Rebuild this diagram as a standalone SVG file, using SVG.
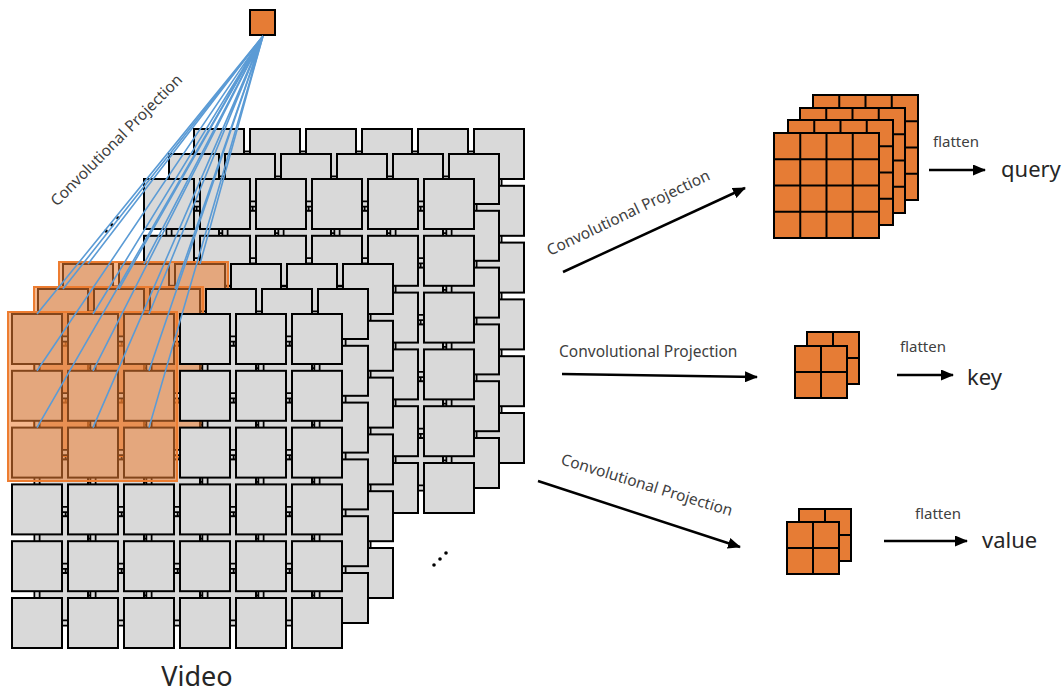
<svg xmlns="http://www.w3.org/2000/svg" xmlns:xlink="http://www.w3.org/1999/xlink" width="1064" height="693" viewBox="0 0 1064 693">
<style>
.sq{fill:#d9d9d9;stroke:#000;stroke-width:2}
.lk1{fill:none;stroke:#000;stroke-width:7}
.lk2{fill:none;stroke:#d9d9d9;stroke-width:3.5}
.ov{fill:#ed7d31;fill-opacity:0.55;stroke:#ed7d31;stroke-width:2}
.oc{fill:#e67c35;stroke:#000;stroke-width:2}
.gl{fill:none;stroke:#000;stroke-width:2}
.bl{stroke:#5b9bd5;stroke-width:1.6;fill:none}
.ar{stroke:#000;stroke-width:2.5;fill:none;marker-end:url(#ah)}
.t{font-family:"Noto Sans","Open Sans",sans-serif;fill:#404040}
.dot{fill:#000}
</style>
<defs>
<marker id="ah" markerWidth="13" markerHeight="11" refX="12" refY="5.5" orient="auto" markerUnits="userSpaceOnUse"><path d="M0,0 L13,5.5 L0,11 z" fill="#000"/></marker>
<g id="row">
<rect class="sq" x="1" y="1" width="50" height="50"/>
<rect class="sq" x="57" y="1" width="50" height="50"/>
<rect class="sq" x="113" y="1" width="50" height="50"/>
<rect class="sq" x="169" y="1" width="50" height="50"/>
<rect class="sq" x="225" y="1" width="50" height="50"/>
<rect class="sq" x="281" y="1" width="50" height="50"/>
</g>
<g id="grid">
<path class="lk1" d="M26 26H306M26 82.8H306M26 139.6H306M26 196.4H306M26 253.2H306M26 310H306M26 26V310M82 26V310M138 26V310M194 26V310M250 26V310M306 26V310"/>
<path class="lk2" d="M26 26H306M26 82.8H306M26 139.6H306M26 196.4H306M26 253.2H306M26 310H306M26 26V310M82 26V310M138 26V310M194 26V310M250 26V310M306 26V310"/>
<use xlink:href="#row" y="0"/>
<use xlink:href="#row" y="56.8"/>
<use xlink:href="#row" y="113.6"/>
<use xlink:href="#row" y="170.4"/>
<use xlink:href="#row" y="227.2"/>
<use xlink:href="#row" y="284"/>
</g>
<g id="g4">
<rect class="oc" x="0" y="0" width="105" height="105"/>
<path class="gl" d="M26.25 0V105M52.5 0V105M78.75 0V105M0 26.25H105M0 52.5H105M0 78.75H105"/>
</g>
<g id="g2">
<rect class="oc" x="0" y="0" width="52" height="52"/>
<path class="gl" d="M26 0V52M0 26H52"/>
</g>
</defs>
<rect width="1064" height="693" fill="#fff"/>

<g id="video">
<g id="layer1"><use xlink:href="#grid" x="193" y="128"/></g>
<g id="layer2"><use xlink:href="#grid" x="168" y="153"/></g>
<g id="layer3"><use xlink:href="#grid" x="143" y="178"/></g>
<g id="layer4"><use xlink:href="#grid" x="62" y="263"/><rect class="ov" x="59" y="262" width="169" height="169"/></g>
<g id="layer5"><use xlink:href="#grid" x="37" y="288"/><rect class="ov" x="34" y="287" width="169" height="169"/></g>
<g id="layer6"><use xlink:href="#grid" x="11" y="313"/><rect class="ov" x="8" y="312" width="169" height="169"/></g>
<g id="dots1"><circle class="dot" cx="106" cy="231" r="1.8"/><circle class="dot" cx="112" cy="225" r="1.8"/><circle class="dot" cx="118" cy="218" r="1.8"/></g>
<g id="dots2"><circle class="dot" cx="434" cy="565" r="1.8"/><circle class="dot" cx="440" cy="559" r="1.8"/><circle class="dot" cx="446" cy="553" r="1.8"/></g>
<text class="t" x="197" y="686" font-size="27" text-anchor="middle" style="fill:#262626">Video</text>
</g>

<g id="kernel"><rect class="oc" x="250" y="10" width="25" height="25"/></g>

<g id="query-maps">
<use xlink:href="#g4" x="813" y="95"/>
<use xlink:href="#g4" x="800" y="108"/>
<use xlink:href="#g4" x="788" y="120"/>
<use xlink:href="#g4" x="774" y="133"/>
</g>
<g id="key-maps">
<use xlink:href="#g2" x="807" y="332"/>
<use xlink:href="#g2" x="795" y="346"/>
</g>
<g id="value-maps">
<use xlink:href="#g2" x="799" y="509"/>
<use xlink:href="#g2" x="787" y="522"/>
</g>

<g id="connectors">
<g id="kernel-lines">
<path class="bl" d="M263 36L88 264M263 36L144 264M263 36L200 264"/>
<path class="bl" d="M263 36L63 289M263 36L119 289M263 36L175 289"/>
<path class="bl" d="M263 36L37 314M263 36L93 314M263 36L149 314M263 36L37 370.8M263 36L93 370.8M263 36L149 370.8M263 36L37 427.6M263 36L93 427.6M263 36L149 427.6"/>
</g>
<line class="ar" x1="563" y1="272" x2="745" y2="188"/>
<line class="ar" x1="562" y1="374" x2="757" y2="377"/>
<line class="ar" x1="538" y1="481" x2="740" y2="547"/>
<line class="ar" x1="929" y1="170" x2="985" y2="170"/>
<line class="ar" x1="897" y1="375" x2="953" y2="375"/>
<line class="ar" x1="884" y1="541" x2="967" y2="541"/>
</g>

<g id="labels">
<text class="t" font-size="15.5" transform="translate(57,207) rotate(-45)">Convolutional Projection</text>
<text class="t" font-size="15.5" transform="translate(550,256) rotate(-25.5)">Convolutional Projection</text>
<text class="t" font-size="15.5" x="559" y="357">Convolutional Projection</text>
<text class="t" font-size="15.5" transform="translate(560,464) rotate(17)">Convolutional Projection</text>
<text class="t" font-size="15" x="933" y="147">flatten</text>
<text class="t" font-size="15" x="900" y="352">flatten</text>
<text class="t" font-size="15" x="915" y="519">flatten</text>
<text class="t" font-size="22" x="1001" y="177" style="fill:#262626">query</text>
<text class="t" font-size="22" x="967" y="385" style="fill:#262626">key</text>
<text class="t" font-size="22" x="982" y="548" style="fill:#262626">value</text>
</g>
</svg>
